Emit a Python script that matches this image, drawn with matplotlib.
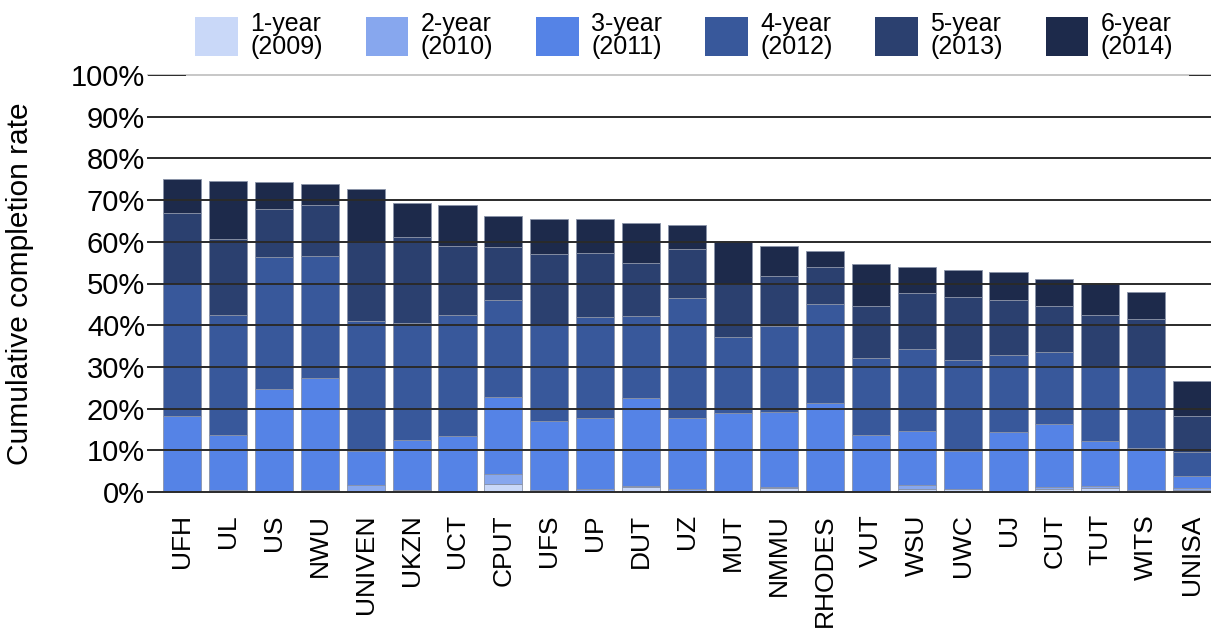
import matplotlib
matplotlib.use('Agg')
import matplotlib.pyplot as plt
import numpy as np

plt.rcParams['font.family'] = ['Liberation Sans', 'DejaVu Sans']

unis = ['UFH', 'UL', 'US', 'NWU', 'UNIVEN', 'UKZN', 'UCT', 'CPUT', 'UFS', 'UP',
        'DUT', 'UZ', 'MUT', 'NMMU', 'RHODES', 'VUT', 'WSU', 'UWC', 'UJ', 'CUT',
        'TUT', 'WITS', 'UNISA']

# cumulative completion rate (%) after n years
yr1 = [0.0, 0.1, 0.0, 0.1, 0.3, 0.1, 0.0, 1.8, 0.1, 0.2, 1.3, 0.2, 0.0, 1.0,
       0.0, 0.0, 0.8, 0.6, 0.0, 0.8, 0.9, 0.3, 0.5]
yr2 = [0.1, 0.4, 0.1, 0.4, 1.7, 0.4, 0.1, 4.3, 0.4, 0.6, 1.4, 0.7, 0.1, 1.2,
       0.1, 0.1, 1.6, 0.7, 0.1, 1.2, 1.4, 0.5, 0.9]
yr3 = [18.3, 13.7, 24.8, 27.3, 9.8, 12.5, 13.5, 22.7, 17.0, 17.8, 22.6, 17.8,
       19.0, 19.1, 21.4, 13.7, 14.6, 9.8, 14.5, 16.2, 12.2, 10.5, 3.8]
yr4 = [49.8, 42.4, 56.4, 56.6, 41.0, 40.5, 42.4, 46.1, 40.3, 41.9, 42.2, 46.5,
       37.2, 39.7, 45.2, 32.1, 34.4, 31.6, 32.8, 33.5, 30.0, 30.0, 9.7]
yr5 = [66.8, 60.7, 67.9, 68.8, 60.3, 61.1, 59.1, 58.7, 57.0, 57.2, 54.9, 58.3,
       50.0, 51.8, 54.0, 44.7, 47.7, 46.7, 46.0, 44.7, 42.4, 41.6, 18.2]
yr6 = [75.1, 74.7, 74.4, 73.9, 72.6, 69.3, 68.9, 66.3, 65.5, 65.4, 64.5, 64.0,
       60.0, 59.1, 57.9, 54.7, 54.0, 53.2, 52.7, 51.1, 50.0, 48.0, 26.5]

labels = ['1-year\n(2009)', '2-year\n(2010)', '3-year\n(2011)',
          '4-year\n(2012)', '5-year\n(2013)', '6-year\n(2014)']
colors = ['#c9d8f8', '#87a7ee', '#5583e6', '#38589b', '#2b406f', '#1d2a4b']

series = [yr1, yr2, yr3, yr4, yr5, yr6]

fig = plt.figure(figsize=(12.11, 6.36), dpi=100)
ax = fig.add_axes([148/1211, 144/636, 1 - 148/1211, 417/636])

x = np.arange(len(unis))
prev = np.zeros(len(unis))
for vals, lab, col in zip(series, labels, colors):
    vals = np.array(vals)
    ax.bar(x, vals - prev, bottom=prev, width=0.83, color=col, label=lab,
           edgecolor='#8a93a8', linewidth=0.6, zorder=1)
    prev = vals

ax.set_xlim(-0.74, 22.41)
ax.set_ylim(0, 100)
ax.set_yticks(np.arange(0, 101, 10))
ax.set_yticklabels([f'{v}%' for v in range(0, 101, 10)])

# grid drawn over the bars
for v in range(0, 100, 10):
    ax.axhline(v, color='#2a2a2a', lw=1.4, zorder=3, clip_on=False)
ax.axhline(100, color='#bdbdbd', lw=1.2, zorder=3, clip_on=False)
ax.axhline(100, xmin=0, xmax=0.035, color='#2a2a2a', lw=1.4, zorder=4)
ax.axhline(100, xmin=0.98, xmax=1, color='#2a2a2a', lw=1.4, zorder=4)

for s in ax.spines.values():
    s.set_visible(False)
ax.tick_params(axis='y', length=0, pad=2, labelsize=21)
ax.set_xticks(x)
ax.set_xticklabels(unis, rotation=90, va='top', ha='center', fontsize=19)
ax.tick_params(axis='x', length=0, pad=16)

ax.set_ylabel('Cumulative completion rate', fontsize=21.5)
ax.yaxis.set_label_coords(-0.107, 0.5)

leg = fig.legend(loc='upper center', bbox_to_anchor=(0.565, 1.017), ncol=6,
                 frameon=False, fontsize=18, handlelength=1.7, handleheight=2.0,
                 handletextpad=0.5, columnspacing=1.72, labelspacing=0.2)
for h in leg.legend_handles:
    h.set_edgecolor('none')
for t in leg.get_texts():
    t.set_linespacing(0.95)

fig.savefig('out.png', dpi=100)
